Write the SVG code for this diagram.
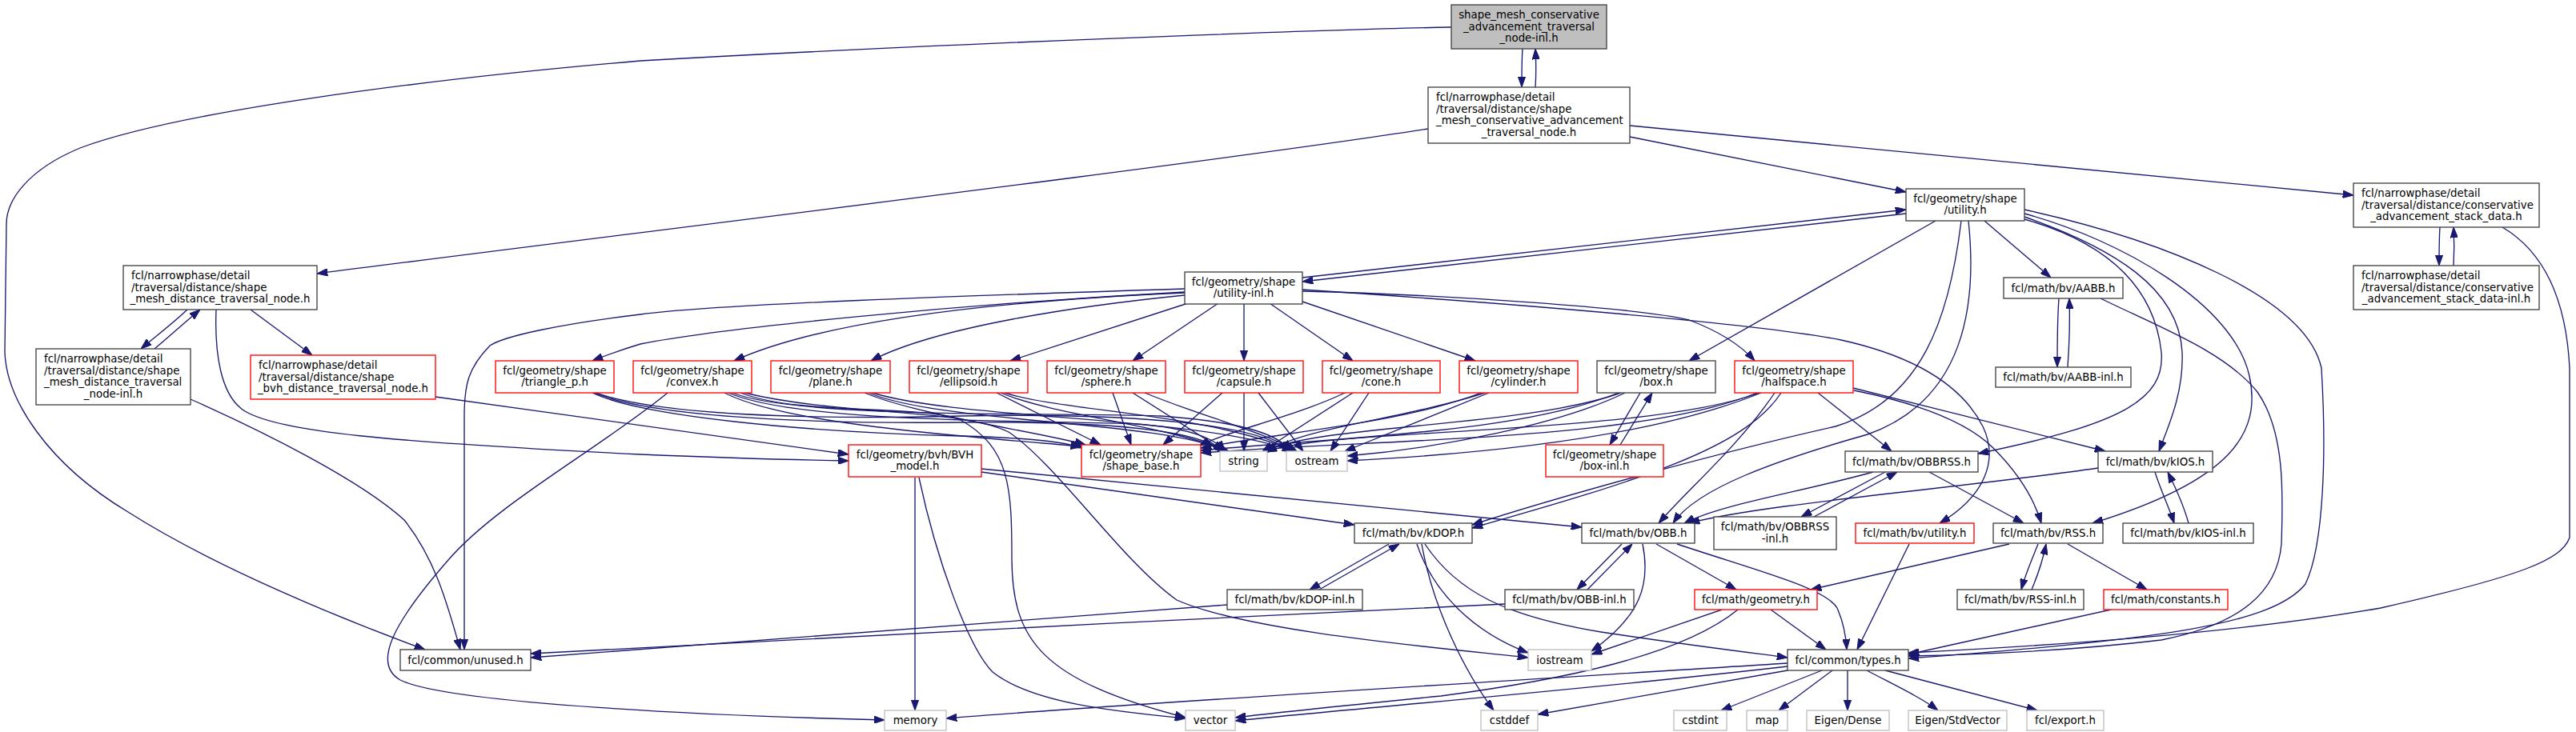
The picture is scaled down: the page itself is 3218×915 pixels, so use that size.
<svg xmlns="http://www.w3.org/2000/svg" width="3218" height="915" viewBox="0 0 3218 915">
<defs>
<marker id="a" viewBox="0 0 13.3 9.4" refX="13.3" refY="4.7" markerWidth="13.3" markerHeight="9.4" markerUnits="userSpaceOnUse" orient="auto">
<path d="M0,0 L13.3,4.7 L0,9.4 z" fill="#191970" stroke="#191970" stroke-width="1"/>
</marker>
</defs>
<style>
.bg{fill:#ffffff}
rect.b{fill:#ffffff;stroke:#404040;stroke-width:1.33}
rect.t{fill:#bfbfbf;stroke:#404040;stroke-width:1.33}
rect.r{fill:#ffffff;stroke:#ff0000;stroke-width:1.33}
rect.g{fill:#ffffff;stroke:#bfbfbf;stroke-width:1.33}
text{font-family:"DejaVu Sans","Liberation Sans",sans-serif;font-size:13.33px;fill:#000000}
.c{text-anchor:middle}
#edges path{fill:none;stroke:#191970;stroke-width:1.33;marker-end:url(#a)}
</style>
<rect class="bg" x="0" y="0" width="3218" height="915"/>
<g id="edges">
<path d="M1902,61 C1901,75 1901,92 1901,109"/>
<path d="M1918,109 C1919,94 1919,78 1918,61"/>
<path d="M1813,34 C1650,37 1150,56 800,76 C520,100 220,140 100,185 C35,212 8,250 8,280 L6,440 C8,500 60,580 160,640 C270,710 430,775 531,812"/>
<path d="M1784,161 C1500,205 800,290 396,342"/>
<path d="M2036,171 L2381,240"/>
<path d="M2036,157 L2940,244"/>
<path d="M234,387 C215,405 195,420 176,436"/>
<path d="M193,436 C212,420 232,402 250,387"/>
<path d="M313,387 L390,444"/>
<path d="M270,387 C268,440 275,495 306,514 C350,540 480,552 800,568 C920,573 1000,575 1060,576"/>
<path d="M238,499 C330,540 450,600 505,650 C545,700 560,760 575,812"/>
<path d="M544,496 L1060,568"/>
<path d="M1480,361 C1200,370 900,380 800,393 C700,405 630,420 612,432 C585,460 580,480 580,520 L580,812"/>
<path d="M1480,365 C1200,380 900,410 800,430 C780,436 760,443 740,451"/>
<path d="M1480,366 C1250,376 1030,400 917,451"/>
<path d="M1480,369 C1350,382 1170,408 1088,451"/>
<path d="M1484,379 L1262,451"/>
<path d="M1522,379 L1415,451"/>
<path d="M1554,379 L1554,451"/>
<path d="M1586,379 L1690,451"/>
<path d="M1627,377 L1843,451"/>
<path d="M1627,364 C1800,368 2050,385 2110,400 C2150,415 2175,432 2192,451"/>
<path d="M1627,362 C1900,380 2200,405 2300,425 C2390,445 2450,480 2477,533 C2497,575 2480,620 2423,654"/>
<path d="M1627,347 L2381,262"/>
<path d="M2381,267 L1627,352"/>
<path d="M2418,276 L2110,451"/>
<path d="M2450,276 C2435,400 2400,500 2293,533 C2150,565 1950,620 1839,656"/>
<path d="M2459,276 C2470,380 2455,500 2333,543 C2220,575 2120,610 2090,654"/>
<path d="M2479,276 L2562,347"/>
<path d="M2529,262 C2700,300 2880,370 2900,460 C2906,560 2904,680 2880,730 C2840,780 2700,800 2384,823"/>
<path d="M2529,267 C2650,300 2790,380 2810,470 C2825,540 2790,600 2614,654"/>
<path d="M2529,271 C2640,310 2722,360 2726,440 C2728,490 2710,530 2697,564"/>
<path d="M2529,274 C2620,300 2690,350 2700,440 C2705,500 2650,530 2471,567"/>
<path d="M3048,284 C3047,300 3047,316 3047,332"/>
<path d="M3065,332 C3066,316 3066,300 3065,284"/>
<path d="M3126,284 C3170,310 3205,360 3210,460 L3210,672 C3200,700 3150,720 2974,760 C2800,790 2600,805 2384,816"/>
<path d="M2572,373 C2570,400 2570,430 2570,459"/>
<path d="M2583,459 C2585,430 2586,400 2585,373"/>
<path d="M2624,373 C2700,410 2780,440 2820,490 C2855,540 2852,620 2850,680 C2845,740 2800,780 2700,800 C2600,812 2480,818 2384,820"/>
<path d="M740,491 C800,520 1000,540 1200,545 C1280,547 1330,552 1351,560"/>
<path d="M742,491 C810,520 1000,530 1200,528 C1400,526 1500,540 1528,564"/>
<path d="M744,491 C820,518 1000,525 1200,520 C1450,515 1580,535 1610,564"/>
<path d="M905,491 C980,530 1200,545 1351,558"/>
<path d="M910,491 C1000,530 1300,525 1420,530 C1490,535 1520,550 1530,564"/>
<path d="M915,491 C1000,525 1350,515 1450,520 C1560,528 1600,545 1612,564"/>
<path d="M1080,491 C1150,520 1300,540 1356,556"/>
<path d="M1085,491 C1180,530 1450,525 1532,564"/>
<path d="M1090,491 C1200,525 1500,520 1615,564"/>
<path d="M1245,491 L1375,556"/>
<path d="M1250,491 C1320,520 1450,530 1535,564"/>
<path d="M1255,491 C1330,515 1500,515 1618,564"/>
<path d="M1390,491 L1413,556"/>
<path d="M1415,491 L1530,564"/>
<path d="M1430,491 C1500,520 1580,540 1620,564"/>
<path d="M1527,491 L1453,556"/>
<path d="M1554,491 L1554,564"/>
<path d="M1572,491 L1628,564"/>
<path d="M1680,491 C1620,520 1530,540 1498,557"/>
<path d="M1690,491 L1577,564"/>
<path d="M1710,491 L1662,564"/>
<path d="M1850,491 C1750,530 1600,540 1500,560"/>
<path d="M1855,491 C1750,525 1620,535 1582,566"/>
<path d="M1860,491 L1680,564"/>
<path d="M2022,491 C1900,540 1700,545 1500,563"/>
<path d="M2025,491 C1900,535 1650,530 1580,564"/>
<path d="M2030,491 C1950,530 1800,560 1683,570"/>
<path d="M2195,491 C2050,550 1750,548 1500,566"/>
<path d="M2198,491 C2050,545 1650,535 1582,565"/>
<path d="M2200,491 C2080,540 1900,565 1683,576"/>
<path d="M2049,491 L2011,556"/>
<path d="M2024,556 L2064,491"/>
<path d="M2225,491 C2180,560 2050,600 1839,660"/>
<path d="M2217,491 C2170,560 2110,610 2072,654"/>
<path d="M2271,491 L2363,564"/>
<path d="M2315,485 L2630,564"/>
<path d="M2316,488 C2400,505 2460,530 2490,560 C2520,590 2540,620 2550,654"/>
<path d="M834,491 C750,560 620,630 560,700 C490,780 465,830 500,850 C560,880 900,895 1105,900"/>
<path d="M925,491 C1000,520 1150,505 1200,525 C1262,560 1264,610 1264,700 C1265,800 1300,850 1481,897"/>
<path d="M930,491 C1050,520 1200,510 1260,540 C1320,580 1400,700 1470,750 C1560,790 1800,810 1909,822"/>
<path d="M1143,597 L1143,888"/>
<path d="M1148,597 C1170,700 1210,810 1240,840 C1290,880 1400,890 1481,898"/>
<path d="M1226,586 L1976,659"/>
<path d="M1226,590 L1692,656"/>
<path d="M2410,590 L2528,654"/>
<path d="M2340,590 C2250,615 2150,630 2104,654"/>
<path d="M2355,590 L2250,646"/>
<path d="M2266,646 L2370,590"/>
<path d="M2621,585 C2450,610 2200,630 2110,654"/>
<path d="M2692,590 C2700,615 2710,635 2716,654"/>
<path d="M2734,654 C2728,632 2718,610 2708,590"/>
<path d="M2546,680 C2538,700 2530,718 2525,737"/>
<path d="M2538,737 C2546,718 2552,700 2556,680"/>
<path d="M2583,680 L2682,737"/>
<path d="M2510,680 L2262,737"/>
<path d="M2637,762 L2384,818"/>
<path d="M2026,680 L1970,737"/>
<path d="M1983,737 L2039,680"/>
<path d="M2069,680 L2169,737"/>
<path d="M2095,680 C2200,715 2280,735 2295,760 C2303,778 2306,795 2307,812"/>
<path d="M2052,680 C2062,730 2050,770 1988,814"/>
<path d="M1735,680 L1636,737"/>
<path d="M1648,737 L1748,680"/>
<path d="M1776,680 C1790,760 1830,840 1866,888"/>
<path d="M1770,680 C1790,740 1840,790 1909,816"/>
<path d="M1780,680 C1820,740 1880,770 2000,790 C2100,805 2180,815 2233,822"/>
<path d="M2212,762 L2281,812"/>
<path d="M2151,762 L1988,818"/>
<path d="M2171,762 C2100,820 1950,850 1800,870 C1700,880 1600,890 1543,897"/>
<path d="M2385,680 L2320,812"/>
<path d="M2233,829 C1900,850 1400,880 1182,898"/>
<path d="M2233,833 C2000,860 1700,885 1543,901"/>
<path d="M2233,838 L1921,893"/>
<path d="M2276,838 L2150,888"/>
<path d="M2289,838 L2222,888"/>
<path d="M2308,838 L2308,888"/>
<path d="M2332,838 C2370,858 2400,872 2421,888"/>
<path d="M2355,838 L2545,888"/>
<path d="M1533,756 L663,822"/>
<path d="M1880,755 C1500,772 900,805 663,817"/>
</g>
<g id="n_top"><rect class="t" x="1813" y="6" width="194" height="55"/><text class="c"><tspan x="1910" y="23">shape_mesh_conservative</tspan><tspan x="1910" y="37.5">_advancement_traversal</tspan><tspan x="1910" y="52">_node-inl.h</tspan></text></g>
<g id="n_camesh"><rect class="b" x="1784" y="109" width="252" height="70"/><text><tspan x="1794" y="126.3">fcl/narrowphase/detail</tspan><tspan x="1794" y="140.8">/traversal/distance/shape</tspan><tspan x="1794" y="155.3">_mesh_conservative_advancement</tspan><tspan x="1910" y="169.8" class="c">_traversal_node.h</tspan></text></g>
<g id="n_utility"><rect class="b" x="2381" y="236" width="148" height="40"/><text class="c"><tspan x="2455" y="252.8">fcl/geometry/shape</tspan><tspan x="2455" y="267.3">/utility.h</tspan></text></g>
<g id="n_stack"><rect class="b" x="2940" y="229" width="232" height="55"/><text><tspan x="2950" y="246">fcl/narrowphase/detail</tspan><tspan x="2950" y="260.5">/traversal/distance/conservative</tspan><tspan x="3056" y="275" class="c">_advancement_stack_data.h</tspan></text></g>
<g id="n_stackinl"><rect class="b" x="2940" y="332" width="232" height="55"/><text><tspan x="2950" y="349">fcl/narrowphase/detail</tspan><tspan x="2950" y="363.5">/traversal/distance/conservative</tspan><tspan x="3056" y="378" class="c">_advancement_stack_data-inl.h</tspan></text></g>
<g id="n_smdist"><rect class="b" x="154" y="332" width="242" height="55"/><text><tspan x="164" y="349">fcl/narrowphase/detail</tspan><tspan x="164" y="363.5">/traversal/distance/shape</tspan><tspan x="275" y="378" class="c">_mesh_distance_traversal_node.h</tspan></text></g>
<g id="n_smdistinl"><rect class="b" x="45" y="436" width="193" height="70"/><text><tspan x="55" y="453.3">fcl/narrowphase/detail</tspan><tspan x="55" y="467.8">/traversal/distance/shape</tspan><tspan x="55" y="482.3">_mesh_distance_traversal</tspan><tspan x="141.5" y="496.8" class="c">_node-inl.h</tspan></text></g>
<g id="n_sbvh"><rect class="r" x="313" y="444" width="231" height="55"/><text><tspan x="323" y="461">fcl/narrowphase/detail</tspan><tspan x="323" y="475.5">/traversal/distance/shape</tspan><tspan x="428.5" y="490" class="c">_bvh_distance_traversal_node.h</tspan></text></g>
<g id="n_utilinl"><rect class="b" x="1480" y="340" width="147" height="40"/><text class="c"><tspan x="1553.5" y="356.8">fcl/geometry/shape</tspan><tspan x="1553.5" y="371.3">/utility-inl.h</tspan></text></g>
<g id="n_aabb"><rect class="b" x="2503" y="347" width="149" height="26"/><text class="c" x="2577.5" y="364.5">fcl/math/bv/AABB.h</text></g>
<g id="n_aabbinl"><rect class="b" x="2493" y="459" width="169" height="25"/><text class="c" x="2577.5" y="476">fcl/math/bv/AABB-inl.h</text></g>
<g id="n_tri"><rect class="r" x="619" y="451" width="148" height="40"/><text class="c"><tspan x="693" y="467.8">fcl/geometry/shape</tspan><tspan x="693" y="482.3">/triangle_p.h</tspan></text></g>
<g id="n_convex"><rect class="r" x="791" y="451" width="148" height="40"/><text class="c"><tspan x="865" y="467.8">fcl/geometry/shape</tspan><tspan x="865" y="482.3">/convex.h</tspan></text></g>
<g id="n_plane"><rect class="r" x="963" y="451" width="149" height="40"/><text class="c"><tspan x="1037.5" y="467.8">fcl/geometry/shape</tspan><tspan x="1037.5" y="482.3">/plane.h</tspan></text></g>
<g id="n_ellipsoid"><rect class="r" x="1136" y="451" width="148" height="40"/><text class="c"><tspan x="1210" y="467.8">fcl/geometry/shape</tspan><tspan x="1210" y="482.3">/ellipsoid.h</tspan></text></g>
<g id="n_sphere"><rect class="r" x="1308" y="451" width="148" height="40"/><text class="c"><tspan x="1382" y="467.8">fcl/geometry/shape</tspan><tspan x="1382" y="482.3">/sphere.h</tspan></text></g>
<g id="n_capsule"><rect class="r" x="1480" y="451" width="148" height="40"/><text class="c"><tspan x="1554" y="467.8">fcl/geometry/shape</tspan><tspan x="1554" y="482.3">/capsule.h</tspan></text></g>
<g id="n_cone"><rect class="r" x="1652" y="451" width="147" height="40"/><text class="c"><tspan x="1725.5" y="467.8">fcl/geometry/shape</tspan><tspan x="1725.5" y="482.3">/cone.h</tspan></text></g>
<g id="n_cylinder"><rect class="r" x="1823" y="451" width="148" height="40"/><text class="c"><tspan x="1897" y="467.8">fcl/geometry/shape</tspan><tspan x="1897" y="482.3">/cylinder.h</tspan></text></g>
<g id="n_box"><rect class="b" x="1995" y="451" width="148" height="40"/><text class="c"><tspan x="2069" y="467.8">fcl/geometry/shape</tspan><tspan x="2069" y="482.3">/box.h</tspan></text></g>
<g id="n_halfspace"><rect class="r" x="2167" y="451" width="148" height="40"/><text class="c"><tspan x="2241" y="467.8">fcl/geometry/shape</tspan><tspan x="2241" y="482.3">/halfspace.h</tspan></text></g>
<g id="n_bvh"><rect class="r" x="1060" y="556" width="166" height="40"/><text class="c"><tspan x="1143" y="572.8">fcl/geometry/bvh/BVH</tspan><tspan x="1143" y="587.3">_model.h</tspan></text></g>
<g id="n_shapebase"><rect class="r" x="1351" y="556" width="149" height="40"/><text class="c"><tspan x="1425.5" y="572.8">fcl/geometry/shape</tspan><tspan x="1425.5" y="587.3">/shape_base.h</tspan></text></g>
<g id="n_string"><rect class="g" x="1524" y="564" width="59" height="25"/><text class="c" x="1553.5" y="581">string</text></g>
<g id="n_ostream"><rect class="g" x="1607" y="564" width="76" height="25"/><text class="c" x="1645" y="581">ostream</text></g>
<g id="n_boxinl"><rect class="r" x="1931" y="556" width="147" height="40"/><text class="c"><tspan x="2004.5" y="572.8">fcl/geometry/shape</tspan><tspan x="2004.5" y="587.3">/box-inl.h</tspan></text></g>
<g id="n_obbrss"><rect class="b" x="2305" y="564" width="166" height="26"/><text class="c" x="2388" y="581.5">fcl/math/bv/OBBRSS.h</text></g>
<g id="n_kios"><rect class="b" x="2621" y="564" width="143" height="26"/><text class="c" x="2692.5" y="581.5">fcl/math/bv/kIOS.h</text></g>
<g id="n_kdop"><rect class="b" x="1692" y="654" width="147" height="25"/><text class="c" x="1765.5" y="671">fcl/math/bv/kDOP.h</text></g>
<g id="n_obb"><rect class="b" x="1976" y="654" width="141" height="25"/><text class="c" x="2046.5" y="671">fcl/math/bv/OBB.h</text></g>
<g id="n_obbrssinl"><rect class="b" x="2141" y="646" width="153" height="41"/><text class="c"><tspan x="2217.5" y="663">fcl/math/bv/OBBRSS</tspan><tspan x="2217.5" y="677.5">-inl.h</tspan></text></g>
<g id="n_bvutil"><rect class="r" x="2318" y="654" width="148" height="25"/><text class="c" x="2392" y="671">fcl/math/bv/utility.h</text></g>
<g id="n_rss"><rect class="b" x="2490" y="654" width="137" height="25"/><text class="c" x="2558.5" y="671">fcl/math/bv/RSS.h</text></g>
<g id="n_kiosinl"><rect class="b" x="2652" y="654" width="163" height="25"/><text class="c" x="2733.5" y="671">fcl/math/bv/kIOS-inl.h</text></g>
<g id="n_kdopinl"><rect class="b" x="1533" y="737" width="169" height="25"/><text class="c" x="1617.5" y="754">fcl/math/bv/kDOP-inl.h</text></g>
<g id="n_obbinl"><rect class="b" x="1880" y="737" width="161" height="25"/><text class="c" x="1960.5" y="754">fcl/math/bv/OBB-inl.h</text></g>
<g id="n_geometry"><rect class="r" x="2117" y="737" width="153" height="25"/><text class="c" x="2193.5" y="754">fcl/math/geometry.h</text></g>
<g id="n_rssinl"><rect class="b" x="2445" y="737" width="158" height="25"/><text class="c" x="2524" y="754">fcl/math/bv/RSS-inl.h</text></g>
<g id="n_constants"><rect class="r" x="2628" y="737" width="155" height="25"/><text class="c" x="2705.5" y="754">fcl/math/constants.h</text></g>
<g id="n_unused"><rect class="b" x="500" y="812" width="163" height="26"/><text class="c" x="581.5" y="829.5">fcl/common/unused.h</text></g>
<g id="n_iostream"><rect class="g" x="1909" y="812" width="79" height="26"/><text class="c" x="1948.5" y="829.5">iostream</text></g>
<g id="n_types"><rect class="b" x="2233" y="812" width="151" height="26"/><text class="c" x="2308.5" y="829.5">fcl/common/types.h</text></g>
<g id="n_memory"><rect class="g" x="1105" y="888" width="77" height="25"/><text class="c" x="1143.5" y="905">memory</text></g>
<g id="n_vector"><rect class="g" x="1481" y="888" width="62" height="25"/><text class="c" x="1512" y="905">vector</text></g>
<g id="n_cstddef"><rect class="g" x="1850" y="888" width="71" height="25"/><text class="c" x="1885.5" y="905">cstddef</text></g>
<g id="n_cstdint"><rect class="g" x="2091" y="888" width="66" height="25"/><text class="c" x="2124" y="905">cstdint</text></g>
<g id="n_map"><rect class="g" x="2182" y="888" width="51" height="25"/><text class="c" x="2207.5" y="905">map</text></g>
<g id="n_eigendense"><rect class="g" x="2257" y="888" width="103" height="25"/><text class="c" x="2308.5" y="905">Eigen/Dense</text></g>
<g id="n_eigenstd"><rect class="g" x="2384" y="888" width="123" height="25"/><text class="c" x="2445.5" y="905">Eigen/StdVector</text></g>
<g id="n_export"><rect class="g" x="2532" y="888" width="96" height="25"/><text class="c" x="2580" y="905">fcl/export.h</text></g>
</svg>
